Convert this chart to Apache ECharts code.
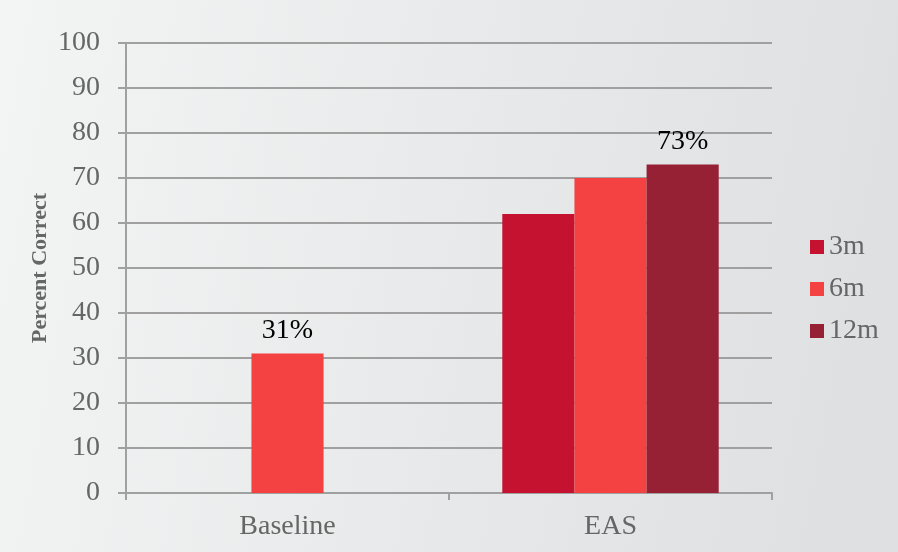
<!DOCTYPE html>
<html>
<head>
<meta charset="utf-8">
<script src="https://cdn.jsdelivr.net/npm/echarts@6/dist/echarts.min.js"></script>
<style>
  html, body { margin: 0; padding: 0; }
  #main { width: 898px; height: 552px; }
</style>
</head>
<body>
<div id="main"></div>
<script>
// data
const categories = ['Baseline', 'EAS'];
const seriesNames = ['3m', '6m', '12m'];
const values3m = [null, 62];
const values6m = [31, 70];
const values12m = [null, 73];
const yTicks = [0, 100, 10]; // min, max, interval

const colors = ['#C41230', '#F44141', '#962034'];
const gridColor = '#A0A0A0';
const serif = '"Liberation Serif", "DejaVu Serif", serif';

// which bars carry a value label
const labelled = { '6m': [0], '12m': [1] };

function makeSeries(name, data, i) {
	return {
		name: name,
		type: 'bar',
		data: data,
		barGap: '0%',
		barCategoryGap: '33%',
		itemStyle: { color: colors[i] },
		label: {
			show: true,
			position: 'top',
			distance: 9,
			color: '#000',
			fontFamily: serif,
			fontSize: 28,
			formatter: function (p) {
				return (labelled[name] || []).indexOf(p.dataIndex) >= 0 ? p.value + '%' : '';
			}
		}
	};
}

let myChart = echarts.init(document.getElementById('main'));
let option = {
	backgroundColor: {
		type: 'linear', x: 0, y: 0, x2: 1, y2: 0.3,
		colorStops: [
			{ offset: 0, color: '#f3f4f4' },
			{ offset: 1, color: '#dfe0e1' }
		]
	},
	animation: false,
	grid: { left: 126, right: 126, top: 43, bottom: 59 },
	legend: {
		orient: 'vertical',
		left: 805,
		top: 228,
		itemWidth: 14,
		itemHeight: 14,
		itemGap: 14,
		icon: 'rect',
		textStyle: { color: '#666', fontFamily: serif, fontSize: 28 },
		data: seriesNames
	},
	xAxis: {
		type: 'category',
		data: categories,
		axisLine: { lineStyle: { color: gridColor, width: 2 } },
		axisTick: { show: true, length: 7, lineStyle: { color: gridColor, width: 2 } },
		axisLabel: { color: '#666', fontFamily: serif, fontSize: 28, margin: 20 }
	},
	yAxis: {
		type: 'value',
		min: yTicks[0],
		max: yTicks[1],
		interval: yTicks[2],
		name: 'Percent Correct',
		nameLocation: 'middle',
		nameGap: 75,
		nameMoveOverlap: false,
		nameTextStyle: { color: '#666', fontFamily: serif, fontSize: 22, fontWeight: 'bold' },
		axisLine: { show: true, lineStyle: { color: gridColor, width: 2 } },
		axisTick: { show: true, length: 8, lineStyle: { color: gridColor, width: 2 } },
		axisLabel: { color: '#666', fontFamily: serif, fontSize: 28, margin: 26 },
		splitLine: { lineStyle: { color: gridColor, width: 2 } }
	},
	series: [
		makeSeries(seriesNames[0], values3m, 0),
		makeSeries(seriesNames[1], values6m, 1),
		makeSeries(seriesNames[2], values12m, 2)
	]
};
myChart.setOption(option);
</script>
</body>
</html>
